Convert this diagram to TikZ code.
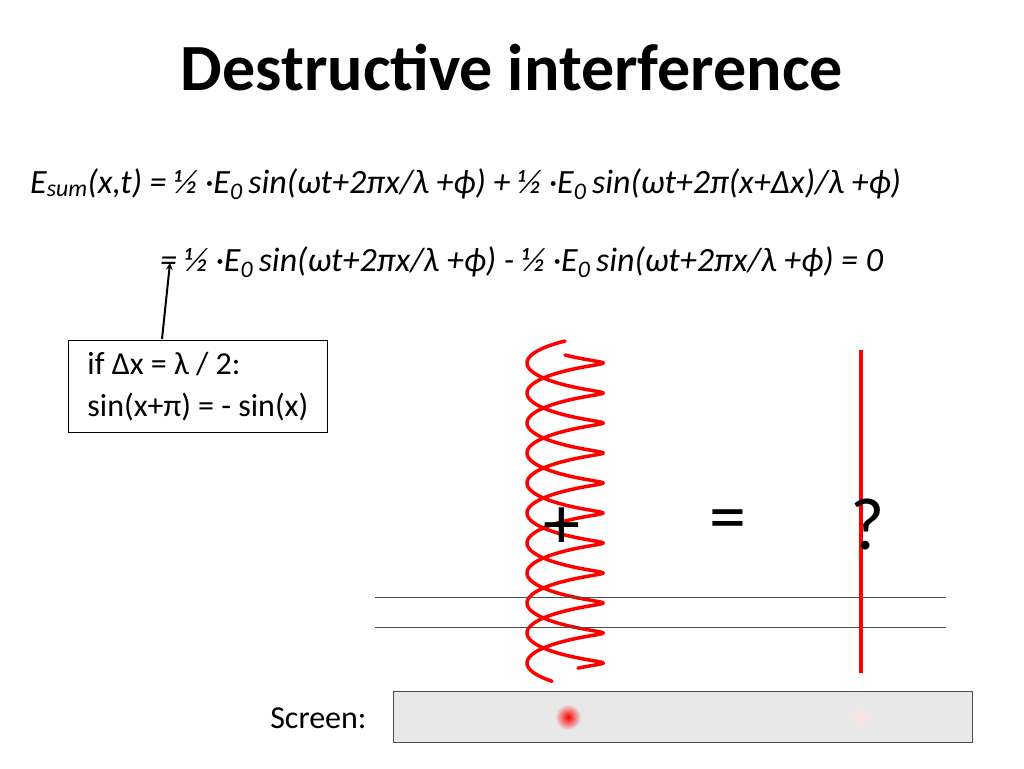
\documentclass[tikz,border=0pt]{standalone}
\usepackage{fontspec}
\setmainfont{Carlito}
\tikzset{
  wave/.style={red, line width=3.5pt, line cap=round},
  rail/.style={black!70, line width=0.8pt},
  eqtext/.style={anchor=base west, inner sep=0pt, font=\fontsize{34}{38}\selectfont\itshape},
}
\begin{document}
\begin{tikzpicture}[x=1pt, y=-1pt]
        \useasboundingbox (0,0) rectangle (1024,768);
        \node (title) at (512,68) {\fontsize{66}{72}\selectfont\bfseries Destructive interference};
        \node[eqtext] (eqa) at (30,193) {E\textsubscript{sum}(x,t) = ½ ·E\textsubscript{0}\,sin(ωt+2πx/λ +ϕ) + ½ ·E\textsubscript{0}\,sin(ωt+2π(x+Δx)/λ +ϕ)};
        \node[eqtext] (eqb) at (160,271) {= ½ ·E\textsubscript{0}\,sin(ωt+2πx/λ +ϕ) - ½ ·E\textsubscript{0}\,sin(ωt+2πx/λ +ϕ) = 0};
        \node[draw, line width=0.8pt, align=left, anchor=north west, minimum width=259pt, minimum height=92pt,
              inner xsep=10pt, font=\fontsize{32}{42}\selectfont] (cond) at (68,340) {if Δx = λ / 2:\\sin(x+π) = - sin(x)};
        \coordinate (tip) at (170,263);
        \draw[line width=2pt, ->, >=stealth] (162,339) -- (tip);
        % the two waves
        \foreach \ph in {0,180} {
            \draw[wave, domain=0:1960, samples=400, smooth]
                plot ({565+38*sin(\x+\ph)}, {348+\x/6+7*cos(\x+\ph)});
        }
        \draw[rail] (375,597) -- (946,597);
        \draw[rail] (375,627) -- (946,627);
        \draw[wave, line cap=butt] (861,350) -- (861,673);
        \node (plus) at (562,528) {\fontsize{74}{74}\selectfont +};
        \node (eq) at (728,526) {\fontsize{74}{74}\selectfont =};
        \node (q) at (868,524) {\fontsize{74}{74}\selectfont ?};
        % screen
        \node[anchor=east, font=\fontsize{32}{36}\selectfont] (lbl) at (370,718) {Screen:};
        \draw[black!70, fill=black!9, line width=0.8pt] (393,691) rectangle (972,742);
        \shade[inner color=red, outer color=black!9] (568,717) circle (13);
        \shade[inner color=red!12, outer color=black!9] (860,717) circle (13);
\end{tikzpicture}
\end{document}
